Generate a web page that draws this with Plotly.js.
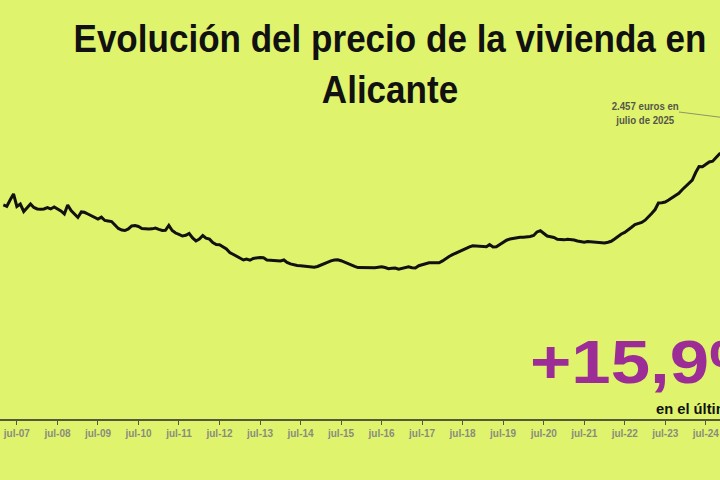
<!DOCTYPE html>
<html>
<head>
<meta charset="utf-8">
<script src="https://cdn.plot.ly/plotly-3.0.1.min.js"></script>
<style>html,body{margin:0;padding:0;background:#dff46c;}#chart{width:720px;height:480px;}</style>
</head>
<body>
<div id="chart"></div>
<script>
// Precio medio (euros/m2), mensual. 2007 empieza en marzo; 2025 termina en julio.
const firstMonth2007 = 3;
const p2007 = [1786, 1774, 1828, 1878, 1774, 1794, 1732, 1765, 1794, 1765];
const p2008 = [1753, 1750, 1753, 1765, 1753, 1769, 1752, 1736, 1711, 1786, 1740, 1710];
const p2009 = [1682, 1728, 1725, 1711, 1698, 1686, 1669, 1685, 1657, 1653, 1648, 1619];
const p2010 = [1590, 1577, 1573, 1586, 1611, 1615, 1607, 1590, 1586, 1585, 1587, 1594];
const p2011 = [1582, 1573, 1574, 1615, 1573, 1552, 1540, 1527, 1533, 1548, 1511, 1486];
const p2012 = [1502, 1531, 1510, 1501, 1473, 1456, 1455, 1440, 1419, 1390, 1373, 1356];
const p2013 = [1346, 1327, 1335, 1325, 1340, 1346, 1348, 1345, 1327, 1325, 1323, 1321];
const p2014 = [1319, 1327, 1306, 1294, 1285, 1281, 1279, 1275, 1270, 1266, 1267, 1273];
const p2015 = [1285, 1298, 1313, 1320, 1327, 1328, 1321, 1308, 1298, 1285, 1274, 1264];
const p2016 = [1263, 1261, 1262, 1260, 1263, 1267, 1270, 1264, 1254, 1258, 1260, 1250];
const p2017 = [1256, 1264, 1270, 1262, 1260, 1279, 1287, 1294, 1304, 1304, 1305, 1304];
const p2018 = [1319, 1340, 1356, 1371, 1385, 1396, 1412, 1425, 1437, 1446, 1444, 1440];
const p2019 = [1441, 1438, 1456, 1436, 1437, 1456, 1477, 1492, 1502, 1508, 1513, 1516];
const p2020 = [1517, 1519, 1523, 1532, 1561, 1571, 1546, 1527, 1521, 1515, 1500, 1496];
const p2021 = [1495, 1500, 1499, 1494, 1486, 1480, 1475, 1481, 1479, 1475, 1474, 1477];
const p2022 = [1469, 1475, 1483, 1502, 1523, 1544, 1557, 1582, 1600, 1622, 1629, 1640];
const p2023 = [1659, 1686, 1715, 1748, 1803, 1805, 1811, 1828, 1846, 1863, 1884, 1913];
const p2024 = [1940, 1970, 1993, 2057, 2107, 2105, 2124, 2145, 2151, 2182, 2212, 2228];
const p2025 = [2251, 2287, 2318, 2349, 2386, 2421, 2457];

const years = [2007, 2008, 2009, 2010, 2011, 2012, 2013, 2014, 2015, 2016, 2017, 2018, 2019, 2020, 2021, 2022, 2023, 2024, 2025];
const yearValues = [p2007, p2008, p2009, p2010, p2011, p2012, p2013, p2014, p2015, p2016, p2017, p2018, p2019, p2020, p2021, p2022, p2023, p2024, p2025];

const tickDates = ['2007-07-01','2008-07-01','2009-07-01','2010-07-01','2011-07-01','2012-07-01','2013-07-01','2014-07-01','2015-07-01','2016-07-01','2017-07-01','2018-07-01','2019-07-01','2020-07-01','2021-07-01','2022-07-01','2023-07-01','2024-07-01'];
const tickLabels = ['jul-07','jul-08','jul-09','jul-10','jul-11','jul-12','jul-13','jul-14','jul-15','jul-16','jul-17','jul-18','jul-19','jul-20','jul-21','jul-22','jul-23','jul-24'];

const titleText = 'Evolución del precio de la vivienda en<br>Alicante';
const lastLabel = '2.457 euros en<br>julio de 2025';
const bigChange = '+15,9%';
const changeLabel = 'en el último año';

// build monthly dates from the year arrays
const xs = [], ys = [];
years.forEach(function (yr, i) {
  const start = (yr === 2007) ? firstMonth2007 : 1;
  yearValues[i].forEach(function (v, j) {
    const m = start + j;
    xs.push(yr + '-' + (m < 10 ? '0' + m : m) + '-01');
    ys.push(v);
  });
});

const bg = '#dff46c';
const sans = '"Liberation Sans", Arial, sans-serif';

const trace = {
  type: 'scatter', mode: 'lines', x: xs, y: ys,
  line: {color: '#111111', width: 3},
  hoverinfo: 'skip', cliponaxis: true
};

// plot area spans 0..720 px horizontally, 60..419 px vertically
const W = 720, plotTop = 60, plotBottom = 419;
function px(v) { return v / W; }
function py(v) { return (plotBottom - v) / (plotBottom - plotTop); }

const layout = {
  width: 720, height: 480,
  margin: {l: 0, r: 0, t: plotTop, b: 480 - plotBottom, pad: 0},
  paper_bgcolor: bg, plot_bgcolor: bg,
  showlegend: false,
  title: {
    text: titleText,
    x: 390 / W, xanchor: 'center',
    y: 1 - 52 / 480, yanchor: 'top', yref: 'container',
    font: {family: sans, size: 39, color: '#111111', weight: 700}
  },
  xaxis: {
    type: 'date',
    range: ['2007-01-30', '2024-11-06'],
    showline: true, linecolor: '#55583a', linewidth: 1.5,
    ticks: 'outside', ticklen: 4, tickwidth: 1, tickcolor: '#55583a',
    tickvals: tickDates, ticktext: tickLabels,
    tickfont: {family: sans, size: 10, color: '#8a8c7e', weight: 700},
    showgrid: false, zeroline: false, fixedrange: true
  },
  yaxis: {range: [0, 2996], visible: false, fixedrange: true},
  shapes: [{
    type: 'line', xref: 'paper', yref: 'paper',
    x0: px(679), y0: py(112), x1: px(750), y1: py(121),
    line: {color: '#7a7a6a', width: 0.8}
  }],
  annotations: [
    {
      text: lastLabel, xref: 'paper', yref: 'paper',
      x: px(645), y: py(112.5), xanchor: 'center', yanchor: 'middle',
      showarrow: false, align: 'center',
      font: {family: sans, size: 11, color: '#55564a', weight: 700}
    },
    {
      text: bigChange, xref: 'paper', yref: 'paper',
      x: px(528), y: py(362), xanchor: 'left', yanchor: 'middle',
      showarrow: false,
      font: {family: sans, size: 61, color: '#9c2d97', weight: 700}
    },
    {
      text: changeLabel, xref: 'paper', yref: 'paper',
      x: px(654), y: py(409), xanchor: 'left', yanchor: 'middle',
      showarrow: false,
      font: {family: sans, size: 14, color: '#111111', weight: 700}
    }
  ]
};

// horizontally condense / widen a text element (keeps it as real text);
// keepLeft: keep the left edge where Plotly placed it
function fitWidth(textEl, factor, keepLeft) {
  if (!textEl) return;
  const lines = textEl.querySelectorAll('tspan.line');
  const targets = lines.length ? Array.prototype.slice.call(lines) : [textEl];
  let grow = 0;
  targets.forEach(function (el) {
    const len = el.getComputedTextLength();
    el.setAttribute('textLength', (len * factor).toFixed(1));
    el.setAttribute('lengthAdjust', 'spacingAndGlyphs');
    grow = Math.max(grow, len * factor - len);
  });
  if (keepLeft) {
    const prev = textEl.getAttribute('transform') || '';
    textEl.setAttribute('transform', 'translate(' + (grow / 2).toFixed(1) + ',0) ' + prev);
  }
}

Plotly.newPlot('chart', [trace], layout, {displayModeBar: false, staticPlot: true}).then(function (gd) {
  const title = gd.querySelector('.gtitle');
  if (title) {
    const first = title.querySelector('tspan.line') || title;
    fitWidth(title, 633 / first.getComputedTextLength(), false);
  }
  const ann = gd.querySelectorAll('.annotation-text');
  if (ann[0]) {
    const first = ann[0].querySelector('tspan.line') || ann[0];
    fitWidth(ann[0], 67 / first.getComputedTextLength(), false);
  }
  fitWidth(ann[1], 1.16, true);
  fitWidth(ann[2], 1.05, true);
});
</script>
</body>
</html>
